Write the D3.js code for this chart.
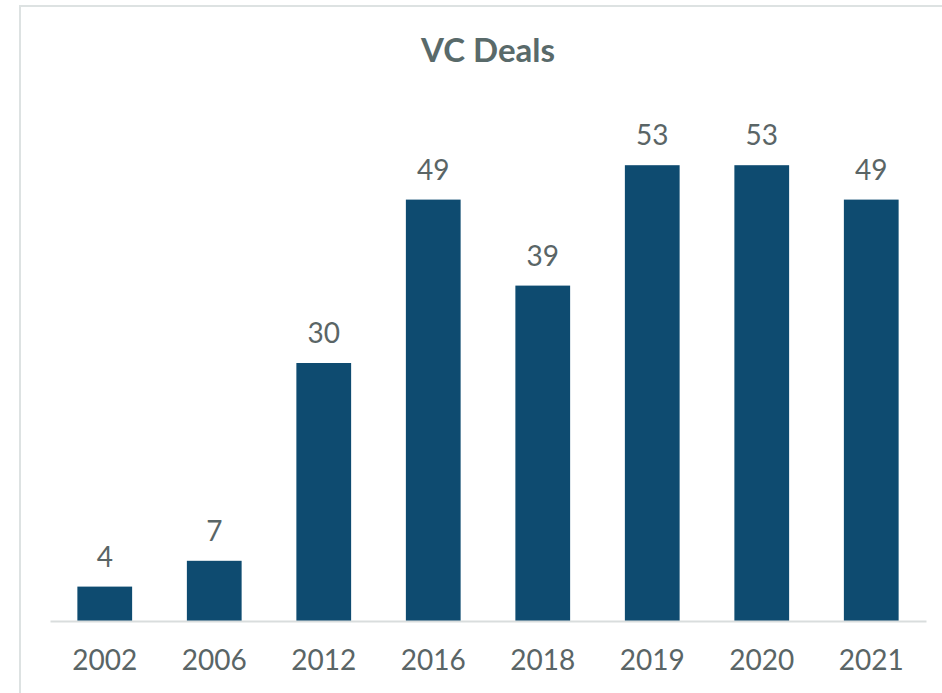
<!DOCTYPE html>
<html lang="en">
<head>
    <meta charset="UTF-8">
    <title>VC Deals</title>
    <script src="https://d3js.org/d3.v7.min.js"></script>
    <style>
        body {
            margin: 0;
            background-color: #ffffff;
            font-family: Lato, "Open Sans", sans-serif;
        }
        svg {
            display: block;
        }
    </style>
</head>
<body>
<svg></svg>

<script>
    // data
    const years = ["2002", "2006", "2012", "2016", "2018", "2019", "2020", "2021"];
    const deals = [4, 7, 30, 49, 39, 53, 53, 49];
    const chartTitle = "VC Deals";

    const width = 942;
    const height = 693;
    const margin = { top: 105, right: 16, bottom: 72, left: 50 };
    const baseline = height - margin.bottom; // ~621

    const svg = d3.select("svg")
        .attr("width", width)
        .attr("height", height);

    // frame (only top and left edges show in the picture)
    svg.append("path")
        .attr("d", `M20,${height} L20,6 L${width},6`)
        .attr("fill", "none")
        .attr("stroke", "#dde2e2")
        .attr("stroke-width", 2);

    svg.append("text")
        .attr("x", 488)
        .attr("y", 62)
        .attr("text-anchor", "middle")
        .attr("font-size", 33)
        .attr("font-weight", "bold")
        .attr("fill", "#596a6a")
        .text(chartTitle);

    const xScale = d3.scaleBand()
        .domain(years)
        .range([margin.left, width - margin.right])
        .paddingInner(0.5)
        .paddingOuter(0.25);

    const yScale = d3.scaleLinear()
        .domain([0, 60])
        .range([baseline, margin.top]);

    const data = years.map((y, i) => ({ year: y, value: deals[i] }));

    svg.selectAll(".bar")
        .data(data)
        .enter()
        .append("rect")
        .attr("class", "bar")
        .attr("x", d => xScale(d.year))
        .attr("y", d => yScale(d.value))
        .attr("width", xScale.bandwidth())
        .attr("height", d => yScale(0) - yScale(d.value))
        .attr("fill", "#0e4b70");

    // value labels
    svg.selectAll(".label")
        .data(data)
        .enter()
        .append("text")
        .attr("class", "label")
        .attr("x", d => xScale(d.year) + xScale.bandwidth() / 2)
        .attr("y", d => yScale(d.value) - 20)
        .attr("text-anchor", "middle")
        .attr("font-size", 28)
        .attr("fill", "#5a6566")
        .text(d => d.value);

    // x axis
    const xAxis = svg.append("g")
        .attr("transform", `translate(0,${baseline})`)
        .call(d3.axisBottom(xScale).tickSize(0).tickSizeOuter(0).tickPadding(29));

    xAxis.select(".domain")
        .attr("stroke", "#d9dddd")
        .attr("stroke-width", 2);

    xAxis.selectAll("text")
        .attr("font-family", "Lato, 'Open Sans', sans-serif")
        .attr("font-size", 28)
        .attr("fill", "#5a6566");
</script>
</body>
</html>
